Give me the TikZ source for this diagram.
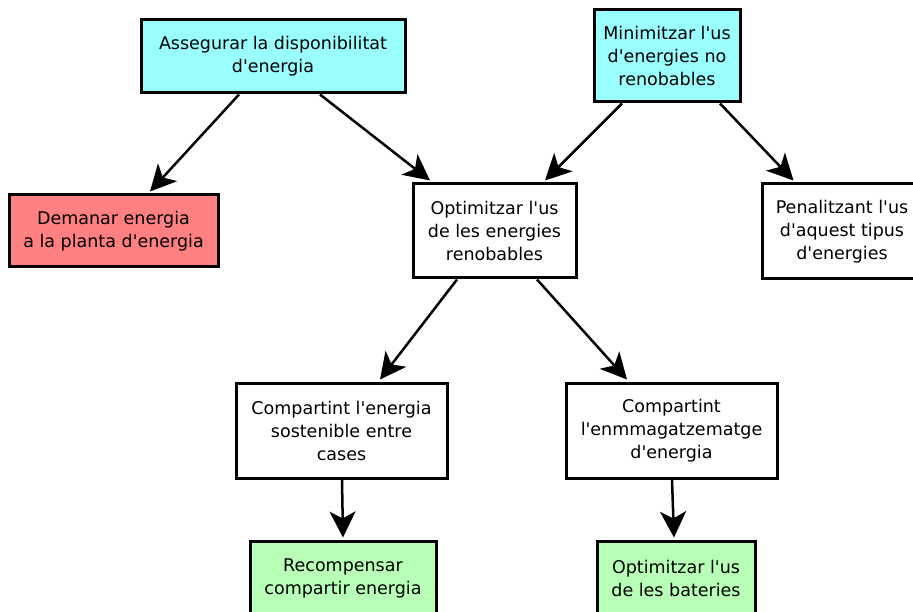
\documentclass[tikz,border=0pt]{standalone}
\usepackage{fontspec}
\newfontfamily\dvs{DejaVu Sans}
\usetikzlibrary{arrows.meta}
\definecolor{cyanbox}{RGB}{153,255,255}
\definecolor{redbox}{RGB}{255,128,128}
\definecolor{greenbox}{RGB}{184,255,184}
\tikzset{
  box/.style={draw=black, line width=3pt, align=center, inner sep=0pt,
    font=\dvs\fontsize{17.5}{23}\selectfont},
  conn/.style={line width=2.5pt, -{Stealth[length=26pt,width=26pt,inset=7pt]}}
}
\begin{document}
\begin{tikzpicture}[x=1pt,y=-1pt]
\useasboundingbox (0,0) rectangle (913,612);
\begin{scope}
\clip (0,0) rectangle (913,612);
\node[box, fill=cyanbox, minimum width=264pt, minimum height=73pt] (A) at (273,56.5) {Assegurar la disponibilitat\\d'energia};
\node[box, fill=cyanbox, minimum width=146pt, minimum height=92pt] (B) at (667,56) {Minimitzar l'us\\d'energies no\\renobables};
\node[box, fill=redbox, minimum width=209pt, minimum height=72pt] (C) at (113.5,231) {Demanar energia\\a la planta d'energia};
\node[box, fill=white, minimum width=163pt, minimum height=94pt] (D) at (494.5,231) {Optimitzar l'us\\de les energies\\renobables};
\node[box, fill=white, minimum width=160pt, minimum height=95pt] (E) at (842,231.5) {Penalitzant l'us\\d'aquest tipus\\d'energies};
\node[box, fill=white, minimum width=211pt, minimum height=95pt] (F) at (341.5,430.5) {Compartint l'energia\\sostenible entre\\cases};
\node[box, fill=white, minimum width=211pt, minimum height=95pt] (G) at (671.5,430.5) {Compartint\\l'enmmagatzematge\\d'energia};
\node[box, fill=greenbox, minimum width=186pt, minimum height=74pt] (H) at (343,578) {Recompensar\\compartir energia};
\node[box, fill=greenbox, minimum width=158pt, minimum height=74pt] (I) at (676,578) {Optimitzar l'us\\de les bateries};
\end{scope}
\draw[conn] ([xshift=-34pt]A.south) -- ([xshift=36.5pt,yshift=2pt]C.north);
\draw[conn] ([xshift=47pt]A.south) -- ([xshift=-64.5pt,yshift=2pt]D.north);
\draw[conn] ([xshift=-45pt]B.south) -- ([xshift=50.5pt,yshift=2pt]D.north);
\draw[conn] ([xshift=53pt]B.south) -- ([xshift=33pt,yshift=2pt]E.north west);
\draw[conn] ([xshift=-37.5pt]D.south) -- ([xshift=38.5pt,yshift=2pt]F.north);
\draw[conn] ([xshift=42.5pt]D.south) -- ([xshift=-44.5pt,yshift=2pt]G.north);
\draw[conn] ([xshift=0.5pt]F.south) -- ([yshift=2pt]H.north);
\draw[conn] ([xshift=0.5pt]G.south) -- ([xshift=-2pt,yshift=2pt]I.north);
\end{tikzpicture}
\end{document}
